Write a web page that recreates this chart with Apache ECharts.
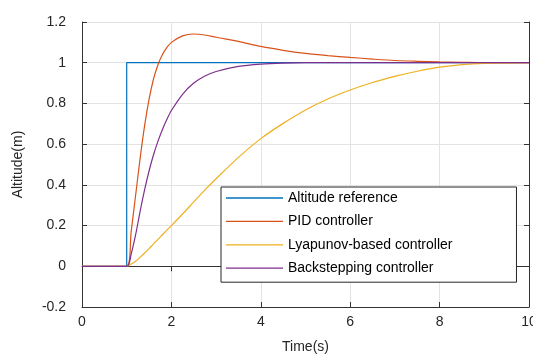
<!DOCTYPE html>
<html>
<head>
<meta charset="utf-8">
<style>
  html, body { margin: 0; padding: 0; background: #fff; }
  #chart { width: 533px; height: 354px; }
</style>
<script src="https://cdn.jsdelivr.net/npm/echarts@6/dist/echarts.min.js"></script>
</head>
<body>
<div id="chart"></div>
<script>
// time samples (s)
const time = [0, 1, 1.1, 1.2, 1.3, 1.4, 1.5, 1.6, 1.7, 1.8, 1.9, 2.0, 2.25, 2.5, 2.75, 3, 3.5, 4, 4.5, 5, 5.5, 6, 6.5, 7, 7.5, 8, 8.5, 9, 10]

const refTime = [0, 1, 1, 10]
const refValues = [0, 0, 1, 1]

const pidValues = [0, 0, 0.17, 0.35, 0.53, 0.69, 0.82, 0.92, 0.99, 1.04, 1.075, 1.10, 1.132, 1.141, 1.136, 1.125, 1.105, 1.08, 1.061, 1.046, 1.035, 1.026, 1.018, 1.011, 1.007, 1.004, 1.002, 1.0, 1.0]
const lyapunovValues = [0, 0, 0.011, 0.025, 0.044, 0.065, 0.087, 0.11, 0.132, 0.155, 0.178, 0.20, 0.257, 0.316, 0.375, 0.43, 0.535, 0.627, 0.702, 0.768, 0.822, 0.866, 0.903, 0.933, 0.958, 0.978, 0.991, 0.997, 1.0]
const backsteppingValues = [0, 0, 0.06, 0.155, 0.27, 0.375, 0.468, 0.548, 0.615, 0.672, 0.722, 0.765, 0.845, 0.90, 0.935, 0.957, 0.982, 0.993, 0.998, 1.0, 1.0, 1.0, 1.0, 1.0, 1.0, 1.0, 1.0, 1.0, 1.0]

const xTicks = [0, 2, 4, 6, 8, 10]
const yTicks = [-0.2, 0, 0.2, 0.4, 0.6, 0.8, 1, 1.2]

const names = ['Altitude reference', 'PID controller', 'Lyapunov-based controller', 'Backstepping controller']
const colors = ['#0072BD', '#D95319', '#EDB120', '#7E2F8E']

function pairs(xs, ys) {
  return xs.map((x, i) => [x, ys[i]])
}

const chart = echarts.init(document.getElementById('chart'))
const font = "'Liberation Sans', Arial, sans-serif"
const axisColor = '#333333'

function lineSeries(name, data, smooth) {
  return {
    name: name,
    type: 'line',
    symbol: 'none',
    smooth: smooth,
    lineStyle: { width: 1.2 },
    data: data,
  }
}

const option = {
  animation: false,
  color: colors,
  grid: { left: 82, right: 4, top: 22, bottom: 47, outerBoundsMode: 'none', containLabel: false },
  legend: {
    data: names,
    orient: 'vertical',
    left: 221,
    top: 187,
    icon: 'rect',
    itemWidth: 57,
    itemHeight: 1.3,
    itemGap: 9.4,
    padding: [4, 64, 7, 5],
    borderColor: '#262626',
    borderWidth: 1,
    backgroundColor: '#ffffff',
    textStyle: { color: '#000000', fontSize: 14, fontFamily: font, lineHeight: 14 },
  },
  xAxis: [
    {
      type: 'value',
      min: xTicks[0],
      max: xTicks[xTicks.length - 1],
      interval: 2,
      name: 'Time(s)',
      nameLocation: 'middle',
      nameGap: 33,
      nameTextStyle: { color: '#262626', fontSize: 14, fontFamily: font },
      axisLine: { show: true, onZero: false, lineStyle: { color: axisColor, width: 1 } },
      axisTick: { show: true, inside: true, length: 5, lineStyle: { color: axisColor } },
      axisLabel: { color: '#262626', fontSize: 14, fontFamily: font, margin: 8 },
      splitLine: { show: true, lineStyle: { color: '#e3e3e3', width: 1 } },
    },
    {
      type: 'value',
      position: 'top',
      min: 0,
      max: 10,
      interval: 2,
      axisLine: { show: true, lineStyle: { color: axisColor, width: 1 } },
      axisTick: { show: true, inside: true, length: 5, lineStyle: { color: axisColor } },
      axisLabel: { show: false },
      splitLine: { show: false },
    },
  ],
  yAxis: [
    {
      type: 'value',
      min: yTicks[0],
      max: yTicks[yTicks.length - 1],
      interval: 0.2,
      name: 'Altitude(m)',
      nameLocation: 'middle',
      nameGap: 57,
      nameTextStyle: { color: '#262626', fontSize: 14, fontFamily: font },
      axisLine: { show: true, onZero: false, lineStyle: { color: axisColor, width: 1 } },
      axisTick: { show: true, inside: true, length: 5, lineStyle: { color: axisColor } },
      axisLabel: { color: '#262626', fontSize: 14, fontFamily: font, margin: 16 },
      splitLine: { show: true, lineStyle: { color: '#e3e3e3', width: 1 } },
    },
    {
      type: 'value',
      position: 'right',
      min: -0.2,
      max: 1.2,
      interval: 0.2,
      axisLine: { show: true, onZero: false, lineStyle: { color: axisColor, width: 1 } },
      axisTick: { show: true, inside: true, length: 5, lineStyle: { color: axisColor } },
      axisLabel: { show: false },
      splitLine: { show: false },
    },
  ],
  series: [
    lineSeries(names[0], pairs(refTime, refValues), false),
    lineSeries(names[1], pairs(time, pidValues), 0.3),
    lineSeries(names[2], pairs(time, lyapunovValues), 0.3),
    lineSeries(names[3], pairs(time, backsteppingValues), 0.3),
  ],
}

chart.setOption(option)
window.addEventListener('resize', () => {
  chart.resize()
})
</script>
</body>
</html>
